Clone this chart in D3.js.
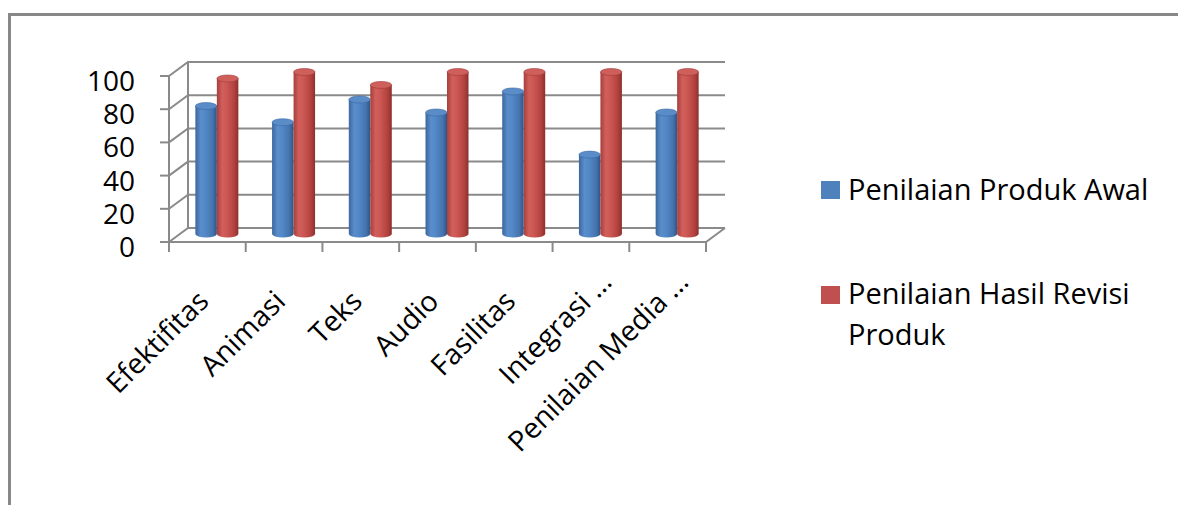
<!DOCTYPE html>
<html><head><meta charset="utf-8">
<script src="https://cdn.jsdelivr.net/npm/d3@7"></script>
<style>
html,body{margin:0;padding:0;background:#fff;}
svg{display:block;}
text{font-family:"Open Sans","Noto Sans",sans-serif;fill:#000;}
</style></head>
<body>
<svg id="chart" width="1178" height="505"></svg>
<script>
const categories = ["Efektifitas","Animasi","Teks","Audio","Fasilitas","Integrasi …","Penilaian Media …"];
const seriesNames = ["Penilaian Produk Awal","Penilaian Hasil Revisi Produk"];
const awal = [79,69,83,75,88,49,75];
const revisi = [96,100,92,100,100,100,100];
const yTicks = [0,20,40,60,80,100];
const colors = ["#4F81BD","#C0504D"];

const svg = d3.select("#chart");
const defs = svg.append("defs");
function grad(id, stops){
  const g = defs.append("linearGradient").attr("id",id).attr("x1","0").attr("x2","1").attr("y1","0").attr("y2","0");
  stops.forEach(s=>g.append("stop").attr("offset",s[0]).attr("stop-color",s[1]));
}
grad("gBlue",[[0,"#3b679c"],[0.25,"#5a8dcb"],[0.45,"#5389c8"],[0.8,"#4574ae"],[1,"#2e5487"]]);
grad("gRed",[[0,"#a53f3c"],[0.25,"#d25f5b"],[0.45,"#cc5854"],[0.8,"#b3423f"],[1,"#8c302d"]]);
const fills = ["url(#gBlue)","url(#gRed)"];
const topFills = ["#5a8cc8","#cf5f5b"];

// frame border
svg.append("path").attr("d","M9.5,505 V14.5 H1178").attr("fill","none").attr("stroke","#888").attr("stroke-width",3);

// geometry
const depth = {dx:19, dy:-14};
const x = d3.scaleBand().domain(categories).range([169,706]);
const y = d3.scaleLinear().domain([0,100]).range([242,76]);
const yBar = d3.scaleLinear().domain([0,100]).range([234,72]);
const xs = d3.scaleBand().domain(seriesNames).range([0, 43]);
const axisColor = "#8a8a8a";

const grid = svg.append("g").attr("fill","none").attr("stroke",axisColor).attr("stroke-width",2);
yTicks.forEach(t=>{
  const yy = y(t);
  grid.append("path").attr("d",`M${x.range()[0]},${yy} L${x.range()[0]+depth.dx},${yy+depth.dy} H${x.range()[1]+depth.dx}`);
  grid.append("line").attr("x1",x.range()[0]-9).attr("x2",x.range()[0]).attr("y1",yy).attr("y2",yy);
});
grid.append("line").attr("x1",x.range()[0]+depth.dx).attr("x2",x.range()[0]+depth.dx).attr("y1",y(0)+depth.dy).attr("y2",y(100)+depth.dy);
grid.append("line").attr("x1",x.range()[0]).attr("x2",x.range()[0]).attr("y1",y(100)).attr("y2",y(0)+10);
grid.append("path").attr("d",`M${x.range()[0]},${y(0)} H${x.range()[1]} L${x.range()[1]+depth.dx},${y(0)+depth.dy}`);
const bounds = categories.map(c=>x(c)).concat([x.range()[1]]);
bounds.forEach(b=>grid.append("line").attr("x1",b).attr("x2",b).attr("y1",y(0)).attr("y2",y(0)+10));

// y labels
svg.append("g").selectAll("text").data(yTicks).join("text")
  .attr("x",135).attr("y",d=>y(d)+4).attr("text-anchor","end").attr("dominant-baseline","central")
  .style("font-size","28px").text(d=>d);

// bars (cylinders)
const ry = 3.5;
const barG = svg.append("g");
[awal, revisi].forEach((vals, si)=>{
  vals.forEach((v,i)=>{
    const cx0 = x(categories[i]) + x.bandwidth()/2 + depth.dx/2 - 21.5 + xs(seriesNames[si]);
    const w = xs.bandwidth();
    const yb = yBar(0), yt = yBar(v);
    const g = barG.append("g");
    g.append("path").attr("d",
      `M${cx0},${yt} V${yb} A${w/2},${ry} 0 0 0 ${cx0+w},${yb} V${yt} Z`).attr("fill",fills[si]);
    g.append("ellipse").attr("cx",cx0+w/2).attr("cy",yt).attr("rx",w/2).attr("ry",ry).attr("fill",topFills[si])
      .attr("stroke",si?"#9e3b38":"#3b6aa3").attr("stroke-width",0.6);
  });
});

// x labels (truncated labels sit further along the baseline)
svg.append("g").selectAll("text").data(categories).join("text")
  .attr("transform",d=>{
    const shift = d.endsWith("…") ? 19.5 : 0;
    return `translate(${x(d)+x.bandwidth()/2+3+shift},${y(0)+61-shift}) rotate(-45)`;
  })
  .attr("text-anchor","end").style("font-size","28.5px").text(d=>d);

// legend
const leg = svg.append("g");
const legY = [181, 286];
seriesNames.forEach((s,i)=>{
  leg.append("rect").attr("x",821).attr("y",legY[i]).attr("width",19).attr("height",18).attr("fill",colors[i]);
});
leg.append("text").attr("x",848).attr("y",200).style("font-size","29px").text(seriesNames[0]);
const t2 = leg.append("text").attr("x",848).attr("y",304).style("font-size","29px");
t2.append("tspan").attr("x",848).text("Penilaian Hasil Revisi");
t2.append("tspan").attr("x",848).attr("dy",41).text("Produk");
</script>
</body></html>
